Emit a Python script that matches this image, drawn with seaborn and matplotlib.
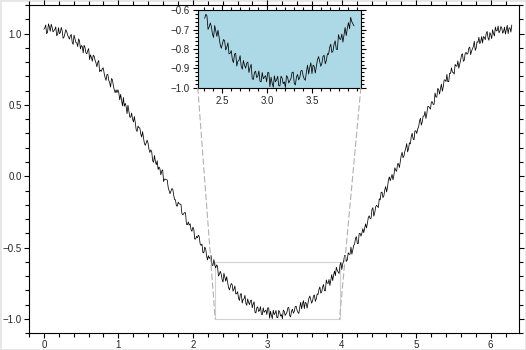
import numpy as np
import pandas as pd
import seaborn as sns
import matplotlib.pyplot as plt
from matplotlib.patches import Rectangle, ConnectionPatch
from matplotlib.ticker import MultipleLocator

# Noisy cosine, sampled on a fine grid over one period (0..2*pi).
# y_even holds the samples at even grid positions, y_odd those in between.
y_even = [
    1.030, 1.060, 1.009, 1.047, 1.065, 1.012, 1.029, 0.985, 1.041, 1.006, 1.020, 0.974, 1.027, 0.989, 0.961, 0.993,
    0.924, 0.964, 0.934, 0.963, 0.892, 0.910, 0.918, 0.865, 0.881, 0.818, 0.833, 0.848, 0.813, 0.767, 0.811, 0.744,
    0.757, 0.720, 0.672, 0.713, 0.654, 0.685, 0.636, 0.586, 0.586, 0.585, 0.574, 0.493, 0.491, 0.490, 0.498, 0.415,
    0.443, 0.380, 0.377, 0.314, 0.340, 0.297, 0.313, 0.229, 0.235, 0.231, 0.167, 0.172, 0.098, 0.104, 0.109, 0.065,
    0.010, 0.045, -0.019, -0.024, -0.078, -0.122, -0.087, -0.131, -0.165, -0.209, -0.193, -0.197, -0.270, -0.254, -0.337, -0.320,
    -0.333, -0.385, -0.368, -0.440, -0.431, -0.423, -0.484, -0.535, -0.496, -0.556, -0.556, -0.565, -0.624, -0.583, -0.642, -0.630,
    -0.687, -0.684, -0.741, -0.707, -0.703, -0.778, -0.773, -0.758, -0.791, -0.825, -0.808, -0.870, -0.822, -0.863, -0.834, -0.904,
    -0.884, -0.873, -0.921, -0.879, -0.957, -0.914, -0.940, -0.966, -0.921, -0.945, -0.969, -0.922, -0.945, -0.997, -0.969, -0.940,
    -0.990, -0.950, -0.969, -0.937, -0.975, -0.952, -0.919, -0.985, -0.931, -0.946, -0.910, -0.954, -0.917, -0.929, -0.871, -0.883,
    -0.924, -0.854, -0.864, -0.873, -0.832, -0.860, -0.828, -0.775, -0.811, -0.758, -0.803, -0.748, -0.723, -0.727, -0.731, -0.664,
    -0.637, -0.670, -0.622, -0.653, -0.594, -0.555, -0.586, -0.546, -0.496, -0.515, -0.474, -0.423, -0.471, -0.400, -0.398, -0.395,
    -0.333, -0.330, -0.277, -0.294, -0.220, -0.257, -0.203, -0.219, -0.165, -0.111, -0.137, -0.072, -0.078, -0.004, -0.009, -0.025,
    0.060, 0.035, 0.089, 0.104, 0.168, 0.142, 0.197, 0.171, 0.235, 0.279, 0.263, 0.317, 0.300, 0.344, 0.407, 0.380,
    0.423, 0.405, 0.488, 0.480, 0.521, 0.503, 0.584, 0.555, 0.606, 0.616, 0.596, 0.675, 0.664, 0.663, 0.722, 0.760,
    0.727, 0.784, 0.771, 0.757, 0.813, 0.858, 0.813, 0.868, 0.861, 0.905, 0.878, 0.910, 0.882, 0.943, 0.974, 0.944,
    0.934, 0.973, 1.001, 0.969, 1.007, 0.964, 1.000, 1.046, 1.021, 1.005, 1.049, 1.002, 1.045, 1.027, 0.999, 1.040,
    1.060,
]
y_odd = [
    1.040, 0.999, 1.068, 1.016, 1.044, 1.021, 1.047, 0.993, 0.999, 1.043, 0.967, 1.001, 1.013, 0.975, 0.987, 0.939,
    0.989, 0.939, 0.909, 0.948, 0.916, 0.864, 0.902, 0.858, 0.895, 0.851, 0.806, 0.841, 0.795, 0.799, 0.733, 0.736,
    0.759, 0.691, 0.713, 0.674, 0.625, 0.676, 0.606, 0.606, 0.606, 0.535, 0.534, 0.552, 0.511, 0.439, 0.457, 0.414,
    0.402, 0.419, 0.326, 0.352, 0.339, 0.275, 0.271, 0.217, 0.253, 0.189, 0.185, 0.110, 0.146, 0.081, 0.047, 0.052,
    0.038, -0.037, -0.021, -0.026, -0.100, -0.105, -0.089, -0.163, -0.207, -0.181, -0.195, -0.259, -0.262, -0.256, -0.339, -0.342,
    -0.374, -0.357, -0.439, -0.421, -0.412, -0.474, -0.475, -0.536, -0.506, -0.586, -0.576, -0.555, -0.624, -0.623, -0.621, -0.699,
    -0.666, -0.723, -0.679, -0.735, -0.741, -0.796, -0.751, -0.805, -0.768, -0.822, -0.854, -0.826, -0.888, -0.859, -0.889, -0.859,
    -0.899, -0.867, -0.895, -0.953, -0.921, -0.947, -0.913, -0.969, -0.953, -0.937, -0.921, -0.994, -0.976, -0.938, -0.959, -0.990,
    -0.940, -0.979, -0.998, -0.946, -0.964, -0.921, -0.977, -0.943, -0.959, -0.913, -0.937, -0.961, -0.883, -0.895, -0.927, -0.889,
    -0.889, -0.839, -0.889, -0.838, -0.876, -0.824, -0.792, -0.818, -0.775, -0.801, -0.726, -0.751, -0.765, -0.689, -0.693, -0.696,
    -0.659, -0.681, -0.603, -0.614, -0.555, -0.596, -0.536, -0.546, -0.546, -0.485, -0.434, -0.472, -0.401, -0.419, -0.367, -0.364,
    -0.362, -0.289, -0.296, -0.232, -0.279, -0.215, -0.211, -0.157, -0.113, -0.149, -0.095, -0.110, -0.026, -0.031, 0.013, 0.008,
    0.042, 0.087, 0.061, 0.146, 0.130, 0.175, 0.229, 0.193, 0.227, 0.301, 0.255, 0.319, 0.332, 0.386, 0.359, 0.422,
    0.454, 0.437, 0.489, 0.471, 0.522, 0.504, 0.555, 0.616, 0.576, 0.646, 0.626, 0.675, 0.714, 0.663, 0.721, 0.729,
    0.716, 0.773, 0.809, 0.785, 0.851, 0.806, 0.861, 0.855, 0.898, 0.852, 0.894, 0.946, 0.898, 0.939, 0.929, 0.979,
    0.979, 0.957, 1.015, 0.953, 0.991, 1.027, 0.983, 1.019, 1.053, 1.017, 1.041, 1.014, 0.996, 1.058, 1.039, 1.010,
]

# Zoomed window shown in the inset
zoom_x = [2.30, 3.97]
zoom_y = [-1.0, -0.6]

main_xticks = [0, 1, 2, 3, 4, 5, 6]
main_yticks = [-1.0, -0.5, 0.0, 0.5, 1.0]
inset_xticks = [2.5, 3.0, 3.5]
inset_yticks = [-1.0, -0.9, -0.8, -0.7, -0.6]

y_all = np.empty(len(y_even) + len(y_odd))
y_all[0::2] = y_even
y_all[1::2] = y_odd
x_all = np.linspace(0.0, 2 * np.pi, len(y_all))

df = pd.DataFrame({"x": x_all, "y": y_all})
df_zoom = df[(df["x"] >= zoom_x[0]) & (df["x"] <= zoom_x[1])]


def minus(v):
    return f"{v:.1f}".replace("-", "\u2212")


sns.set_theme(style="ticks")
plt.rcParams["font.family"] = ["Liberation Sans", "DejaVu Sans"]

fig = plt.figure(figsize=(5.26, 3.5), dpi=100)
fig.patch.set_facecolor("white")

ax = fig.add_axes([0.0551, 0.0477, 0.9316, 0.938])
sns.lineplot(data=df, x="x", y="y", ax=ax, color="black", linewidth=0.55,
             estimator=None, sort=False)
ax.set_xlim(-0.2, 6.38)
ax.set_ylim(-1.1, 1.2)
ax.set_xlabel("")
ax.set_ylabel("")
ax.set_xticks(main_xticks)
ax.set_yticks(main_yticks)
ax.set_xticklabels([str(t) for t in main_xticks])
ax.set_yticklabels([minus(t) for t in main_yticks])
ax.xaxis.set_minor_locator(MultipleLocator(0.2))
ax.yaxis.set_minor_locator(MultipleLocator(0.1))
ax.tick_params(which="both", direction="out", top=True, right=True,
               color="black", width=0.8, labelsize=7, pad=1.5)
ax.tick_params(which="major", length=3.5)
ax.tick_params(which="minor", length=2.8)
for sp in ax.spines.values():
    sp.set_visible(True)
    sp.set_color("black")
    sp.set_linewidth(0.8)

# Zoom window outline
ax.add_patch(Rectangle((zoom_x[0], zoom_y[0]), zoom_x[1] - zoom_x[0], zoom_y[1] - zoom_y[0],
                       fill=False, edgecolor="#d3d3d3", linewidth=0.8, zorder=1))

# Inset
axin = fig.add_axes([0.376, 0.749, 0.310, 0.222])
axin.set_facecolor("lightblue")
sns.lineplot(data=df_zoom, x="x", y="y", ax=axin, color="black", linewidth=0.55,
             estimator=None, sort=False)
axin.set_xlim(2.23, 4.04)
axin.set_ylim(zoom_y[0], zoom_y[1])
axin.set_xlabel("")
axin.set_ylabel("")
axin.set_xticks(inset_xticks)
axin.set_yticks(inset_yticks)
axin.set_xticklabels([f"{t:.1f}" for t in inset_xticks])
axin.set_yticklabels([minus(t) for t in inset_yticks])
axin.xaxis.set_minor_locator(MultipleLocator(0.1))
axin.yaxis.set_minor_locator(MultipleLocator(0.02))
axin.tick_params(which="both", direction="out", top=True, right=True,
                 color="black", width=0.8, labelsize=7, pad=2.5)
axin.tick_params(which="major", length=3.5)
axin.tick_params(which="minor", length=2)
for sp in axin.spines.values():
    sp.set_visible(True)
    sp.set_color("black")
    sp.set_linewidth(0.8)

# Dashed connectors from the inset's lower corners to the zoom window
for xa, xb in [(0.0, zoom_x[0]), (1.0, zoom_x[1])]:
    con = ConnectionPatch(xyA=(xa, 0.0), coordsA=axin.transAxes,
                          xyB=(xb, zoom_y[0]), coordsB=ax.transData,
                          color="#b0b0b0", linestyle=(0, (5, 3)), linewidth=0.8)
    fig.add_artist(con)

fig.patches.append(Rectangle((0, 0), 1, 1, transform=fig.transFigure, fill=False,
                             edgecolor="#e6e6e6", linewidth=2, zorder=-1))

fig.savefig("out.png", dpi=100)
